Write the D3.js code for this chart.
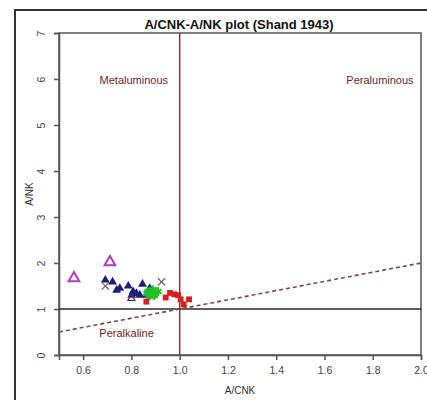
<!DOCTYPE html>
<html>
<head>
<meta charset="utf-8">
<script src="https://cdn.jsdelivr.net/npm/d3@7"></script>
<style>
  body { margin: 0; background: #fff; }
  svg { display: block; font-family: "Liberation Sans", Arial, sans-serif; }
</style>
</head>
<body>
<div id="chart"></div>
<script>
// A/CNK - A/NK values, one array per sample group
const openTriangles = [[0.562, 1.67], [0.711, 2.02]];
const darkTriangles = [
  [0.692, 1.63], [0.722, 1.59], [0.752, 1.45], [0.739, 1.41], [0.787, 1.50],
  [0.846, 1.54], [0.807, 1.38], [0.821, 1.34], [0.801, 1.30], [0.835, 1.30],
  [0.876, 1.45], [0.863, 1.30]
];
const smallOpenTriangles = [[0.800, 1.23]];
const crosses = [[0.692, 1.50], [0.925, 1.59], [0.883, 1.30]];
const greenStars = [
  [0.870, 1.38], [0.880, 1.32], [0.890, 1.42], [0.900, 1.35],
  [0.875, 1.28], [0.910, 1.38], [0.865, 1.34], [0.895, 1.29]
];
const redSquares = [
  [0.862, 1.16], [0.942, 1.25], [0.960, 1.35], [0.978, 1.32],
  [0.994, 1.30], [1.004, 1.21], [1.017, 1.10], [1.039, 1.21]
];
const xTicks = [0.6, 0.8, 1.0, 1.2, 1.4, 1.6, 1.8, 2.0];
const yTicks = [0, 1, 2, 3, 4, 5, 6, 7];

const width = 427, height = 400;
const margin = { top: 33, left: 59, right: 6, bottom: 45 };

const svg = d3.select("#chart").append("svg")
  .attr("width", width)
  .attr("height", height);

// outer figure border
svg.append("rect")
  .attr("x", 15).attr("y", 10)
  .attr("width", 430).attr("height", 400)
  .attr("fill", "none")
  .attr("stroke", "#333")
  .attr("stroke-width", 2);

const x = d3.scaleLinear().domain([0.5, 2.0]).range([margin.left, width - margin.right]);
const y = d3.scaleLinear().domain([0, 7]).range([height - margin.bottom, margin.top]);

// title
svg.append("text")
  .attr("x", (x.range()[0] + x.range()[1]) / 2 - 1)
  .attr("y", 29)
  .attr("text-anchor", "middle")
  .attr("font-size", 13)
  .attr("font-weight", "bold")
  .attr("fill", "#111")
  .text("A/CNK-A/NK plot (Shand 1943)");

// plot box
svg.append("rect")
  .attr("x", x(0.5)).attr("y", y(7))
  .attr("width", x(2.0) - x(0.5))
  .attr("height", y(0) - y(7))
  .attr("fill", "none")
  .attr("stroke", "#555")
  .attr("stroke-width", 1.5);

// axes
const xAxis = svg.append("g")
  .attr("transform", "translate(0," + y(0) + ")")
  .call(d3.axisBottom(x).tickValues(xTicks).tickFormat(d3.format(".1f"))
    .tickSizeOuter(0).tickSize(5).tickPadding(7));
const yAxis = svg.append("g")
  .attr("transform", "translate(" + x(0.5) + ",0)")
  .call(d3.axisLeft(y).tickValues(yTicks).tickFormat(d3.format("d"))
    .tickSizeOuter(0).tickSize(5));

[xAxis, yAxis].forEach(g => {
  g.select(".domain").attr("stroke", "#555").attr("stroke-width", 1.5);
  g.selectAll(".tick line").attr("stroke", "#555").attr("stroke-width", 1.5);
  g.selectAll(".tick text").attr("fill", "#444").attr("font-size", 10.5)
    .attr("font-family", "Liberation Sans, Arial, sans-serif");
});
// R style: y labels parallel to the axis
yAxis.selectAll(".tick text")
  .attr("x", null)
  .attr("text-anchor", "middle")
  .attr("transform", "translate(-18,0) rotate(-90)")
  .attr("dy", "0.35em");

// axis labels
svg.append("text")
  .attr("x", (x.range()[0] + x.range()[1]) / 2)
  .attr("y", 394)
  .attr("text-anchor", "middle")
  .attr("font-size", 10)
  .attr("fill", "#333")
  .text("A/CNK");
svg.append("text")
  .attr("transform", "translate(33," + ((y.range()[0] + y.range()[1]) / 2) + ") rotate(-90)")
  .attr("text-anchor", "middle")
  .attr("font-size", 10)
  .attr("fill", "#333")
  .text("A/NK");

// reference lines
svg.append("line")
  .attr("x1", x(1)).attr("x2", x(1))
  .attr("y1", y(0)).attr("y2", y(7))
  .attr("stroke", "#7a3a2e").attr("stroke-width", 1.5);
svg.append("line")
  .attr("x1", x(0.5)).attr("x2", x(2.0))
  .attr("y1", y(1)).attr("y2", y(1))
  .attr("stroke", "#2a2a2a").attr("stroke-width", 1.5);
svg.append("line")
  .attr("x1", x(0.5)).attr("x2", x(2.0))
  .attr("y1", y(0.5)).attr("y2", y(2.0))
  .attr("stroke", "#7a4a4a").attr("stroke-width", 1.6)
  .attr("stroke-dasharray", "4,3");

// field labels
const fieldLabels = [
  { text: "Metaluminous", x: 0.81, y: 5.98 },
  { text: "Peraluminous", x: 1.83, y: 5.98 },
  { text: "Peralkaline", x: 0.78, y: 0.48 }
];
svg.selectAll(".field")
  .data(fieldLabels)
  .enter().append("text")
  .attr("class", "field")
  .attr("x", d => x(d.x))
  .attr("y", d => y(d.y))
  .attr("dy", "0.35em")
  .attr("text-anchor", "middle")
  .attr("font-size", 11)
  .attr("fill", "#6b1f1f")
  .text(d => d.text);

// points
const pts = svg.append("g");
function symbols(data, type, size, fill, stroke, sw) {
  pts.selectAll(null)
    .data(data)
    .enter().append("path")
    .attr("d", d3.symbol().type(type).size(size))
    .attr("transform", d => "translate(" + x(d[0]) + "," + y(d[1]) + ")")
    .attr("fill", fill)
    .attr("stroke", stroke)
    .attr("stroke-width", sw);
}
symbols(darkTriangles, d3.symbolTriangle, 34, "#1c1f7a", "none", 0);
symbols(smallOpenTriangles, d3.symbolTriangle, 22, "none", "#4a2a6a", 1.2);
symbols(crosses, d3.symbolX, 36, "none", "#666", 1.2);
symbols(greenStars, d3.symbolAsterisk, 50, "none", "#22c022", 2.2);
symbols(redSquares, d3.symbolSquare, 34, "#d42020", "none", 0);
symbols(openTriangles, d3.symbolTriangle, 50, "none", "#b03cc0", 2);
</script>
</body>
</html>
